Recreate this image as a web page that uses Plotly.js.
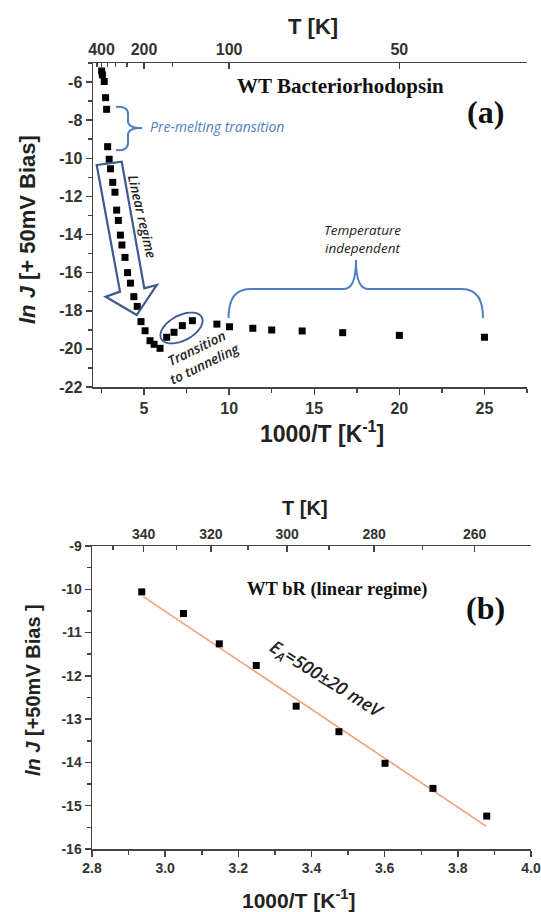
<!DOCTYPE html>
<html>
<head>
<meta charset="utf-8">
<script src="https://cdn.plot.ly/plotly-3.0.1.min.js"></script>
<style>html,body{margin:0;padding:0;background:#fff;}#chart{width:541px;height:912px;}</style>
</head>
<body>
<div id="chart"></div>
<script>
// ---------- Panel (a) data ----------
const invTA = [2.51, 2.55, 2.66, 2.74, 2.80, 2.86, 2.95, 3.03, 3.16, 3.29, 3.39, 3.49, 3.61, 3.70, 3.88, 4.03, 4.20, 4.40, 4.60, 4.82, 5.06, 5.35, 5.59, 5.94, 6.33, 6.76, 7.25, 7.84, 9.28, 10.02, 11.39, 12.50, 14.29, 16.67, 20.00, 25.00];
const lnJA  = [-5.42, -5.62, -5.97, -6.82, -7.43, -9.39, -10.05, -10.55, -11.26, -11.78, -12.72, -13.26, -14.03, -14.55, -15.20, -16.00, -16.55, -17.26, -17.77, -18.57, -19.05, -19.57, -19.76, -19.97, -19.39, -19.13, -18.78, -18.52, -18.70, -18.84, -18.92, -19.01, -19.06, -19.15, -19.29, -19.39];
const bottomTicksA = [5, 10, 15, 20, 25];
const bottomMinorA = [2.5, 7.5, 12.5, 17.5, 22.5, 27.5];
const leftTicksA = [-22, -20, -18, -16, -14, -12, -10, -8, -6];
const leftMinorA = [-21, -19, -17, -15, -13, -11, -9, -7, -5];
const topTempA = [400, 200, 100, 50];
const topMinorTempA = [450, 350, 300, 250, 150];

// ---------- Panel (b) data ----------
const invTB = [2.936, 3.050, 3.148, 3.249, 3.358, 3.475, 3.601, 3.732, 3.879];
const lnJB  = [-10.06, -10.56, -11.26, -11.76, -12.70, -13.29, -14.02, -14.60, -15.24];
const fitX  = [2.94, 3.877];
const fitY  = [-10.17, -15.47];
const bottomTicksB = [2.8, 3.0, 3.2, 3.4, 3.6, 3.8, 4.0];
const bottomMinorB = [2.9, 3.1, 3.3, 3.5, 3.7, 3.9];
const leftTicksB = [-16, -15, -14, -13, -12, -11, -10, -9];
const leftMinorB = [-15.5, -14.5, -13.5, -12.5, -11.5, -10.5, -9.5];
const topTempB = [340, 320, 300, 280, 260];
const topMinorTempB = [350, 330, 310, 290, 270];

const W = 541, H = 912;
const P = (x, y) => (x / W).toFixed(4) + ',' + (1 - y / H).toFixed(4);
const inv = T => 1000 / T;

const axisCol = '#444';
const tickFontA = {family: 'Arial, "Liberation Sans", sans-serif', size: 16, color: '#333', weight: 700};
const tickFontB = {family: 'Arial, "Liberation Sans", sans-serif', size: 14, color: '#333', weight: 700};

function baseAxis(extra) {
  return Object.assign({
    showline: true, linecolor: axisCol, linewidth: 1.5, showgrid: false, zeroline: false,
    ticks: 'outside', ticklen: 6, tickwidth: 1.5, tickcolor: axisCol, fixedrange: true
  }, extra);
}

const traces = [
  {x: invTA, y: lnJA, xaxis: 'x', yaxis: 'y', mode: 'markers', type: 'scatter',
   marker: {symbol: 'square', size: 7, color: '#000'}, showlegend: false, hoverinfo: 'skip'},
  {x: [], y: [], xaxis: 'x2', yaxis: 'y', mode: 'markers', type: 'scatter', showlegend: false, hoverinfo: 'skip'},
  {x: fitX, y: fitY, xaxis: 'x3', yaxis: 'y3', mode: 'lines', type: 'scatter',
   line: {color: '#f29f7f', width: 1.6}, showlegend: false, hoverinfo: 'skip'},
  {x: invTB, y: lnJB, xaxis: 'x3', yaxis: 'y3', mode: 'markers', type: 'scatter',
   marker: {symbol: 'square', size: 7, color: '#000'}, showlegend: false, hoverinfo: 'skip'},
  {x: [], y: [], xaxis: 'x4', yaxis: 'y3', mode: 'markers', type: 'scatter', showlegend: false, hoverinfo: 'skip'}
];

const blue = '#4f7fc0';
const navy = '#3d5a8e';

function ellipsePath(cx, cy, a, b, angDeg) {
  const t = angDeg * Math.PI / 180;
  let s = '';
  for (let i = 0; i <= 48; i++) {
    const u = i / 48 * 2 * Math.PI;
    const ex = a * Math.cos(u), ey = b * Math.sin(u);
    const x = cx + ex * Math.cos(t) - ey * Math.sin(t);
    const y = cy + ex * Math.sin(t) + ey * Math.cos(t);
    s += (i === 0 ? 'M ' : ' L ') + P(x, y);
  }
  return s + ' Z';
}

const shapes = [
  {type: 'path', xref: 'paper', yref: 'paper', line: {color: blue, width: 2},
   path: 'M ' + P(116, 107) + ' Q ' + P(128, 106) + ' ' + P(128, 114) + ' L ' + P(128, 121) +
         ' Q ' + P(128, 128) + ' ' + P(142, 128) + ' Q ' + P(128, 128) + ' ' + P(128, 135) +
         ' L ' + P(128, 143) + ' Q ' + P(128, 151) + ' ' + P(116, 150)},
  {type: 'path', xref: 'paper', yref: 'paper', line: {color: navy, width: 2.2},
   path: 'M ' + P(96.7, 165) + ' L ' + P(121.7, 161.7) + ' L ' + P(144.3, 288.3) + ' L ' + P(156.7, 285) +
         ' L ' + P(136.7, 315) + ' L ' + P(105.7, 296.7) + ' L ' + P(120, 291.7) + ' Z'},
  {type: 'path', xref: 'paper', yref: 'paper', line: {color: navy, width: 1.8},
   path: ellipsePath(181.5, 328, 23, 12.5, -28)},
  {type: 'path', xref: 'paper', yref: 'paper', line: {color: blue, width: 2},
   path: 'M ' + P(228.5, 318) + ' Q ' + P(228.5, 289) + ' ' + P(250, 289) + ' L ' + P(344, 289) +
         ' Q ' + P(356, 289) + ' ' + P(356, 260) + ' Q ' + P(356, 289) + ' ' + P(368, 289) +
         ' L ' + P(462, 289) + ' Q ' + P(483, 289) + ' ' + P(483, 318)}
];

function ann(text, x, y, font, extra) {
  return Object.assign({text: text, xref: 'paper', yref: 'paper', x: x / W, y: 1 - y / H,
    xanchor: 'center', yanchor: 'middle', showarrow: false, font: font}, extra || {});
}
const arialB = (s, c) => ({family: 'Arial, "Liberation Sans", sans-serif', size: s, color: c || '#222', weight: 700});
const timesB = s => ({family: '"Liberation Serif", "Times New Roman", serif', size: s, color: '#111', weight: 700});
const italic = (s, c, w) => ({family: '"Open Sans", Arial, sans-serif', size: s, color: c, style: 'italic', weight: w || 400});

const annotations = [
  ann('<b>T [K]</b>', 313, 27, arialB(22)),
  ann('<b><i>ln J</i> [+ 50mV Bias]</b>', 27, 230, arialB(22), {textangle: -90}),
  ann('<b>1000/T [K<sup>-1</sup>]</b>', 322, 432, arialB(23)),
  ann('WT Bacteriorhodopsin', 340, 86, timesB(21)),
  ann('(a)', 485, 112, timesB(32)),
  ann('Pre-melting transition', 148, 127, italic(14, blue), {xanchor: 'left'}),
  ann('Linear regime', 142, 216, italic(13.5, '#222', 600), {textangle: 77}),
  ann('Transition<br>to tunneling', 201, 356, italic(13.5, '#222', 600), {textangle: -26}),
  ann('Temperature<br>independent', 362, 239, italic(13.5, '#222', 500), {}),

  ann('<b>T [K]</b>', 305, 508, arialB(20)),
  ann('<b><i>ln J</i> [+50mV Bias ]</b>', 33, 690, arialB(20), {textangle: -90}),
  ann('<b>1000/T [K<sup>-1</sup>]</b>', 298, 899, arialB(21)),
  ann('WT bR (linear regime)', 337, 589, timesB(18.5)),
  ann('(b)', 485, 608, timesB(32)),
  ann('E<sub>A</sub>=500±20 meV', 326, 679, italic(18, '#222', 600), {textangle: 32})
];

const layout = {
  width: W, height: H, margin: {l: 0, r: 0, t: 0, b: 0},
  paper_bgcolor: '#fff', plot_bgcolor: 'rgba(0,0,0,0)', showlegend: false,
  xaxis: baseAxis({domain: [93 / W, 527 / W], anchor: 'y', range: [2, 27.5],
    tickmode: 'array', tickvals: bottomTicksA, ticktext: bottomTicksA.map(String), tickfont: tickFontA,
    minor: {tickmode: 'array', tickvals: bottomMinorA, ticks: 'outside', ticklen: 4, tickwidth: 1.5, tickcolor: axisCol}}),
  xaxis2: baseAxis({overlaying: 'x', side: 'top', anchor: 'y', range: [2, 27.5], ticks: 'inside',
    tickmode: 'array', tickvals: topTempA.map(inv), ticktext: topTempA.map(String), tickfont: tickFontA,
    minor: {tickmode: 'array', tickvals: topMinorTempA.map(inv), ticks: 'inside', ticklen: 4, tickwidth: 1.5, tickcolor: axisCol}}),
  yaxis: baseAxis({domain: [1 - 387 / H, 1 - 63 / H], anchor: 'x', range: [-22, -5],
    tickmode: 'array', tickvals: leftTicksA, ticktext: leftTicksA.map(String), tickfont: tickFontA,
    minor: {tickmode: 'array', tickvals: leftMinorA, ticks: 'outside', ticklen: 4, tickwidth: 1.5, tickcolor: axisCol}}),
  xaxis3: baseAxis({domain: [92 / W, 531 / W], anchor: 'y3', range: [2.8, 4.0],
    tickmode: 'array', tickvals: bottomTicksB, ticktext: bottomTicksB.map(v => v.toFixed(1)), tickfont: tickFontB,
    minor: {tickmode: 'array', tickvals: bottomMinorB, ticks: 'outside', ticklen: 4, tickwidth: 1.5, tickcolor: axisCol}}),
  xaxis4: baseAxis({overlaying: 'x3', side: 'top', anchor: 'y3', range: [2.8, 4.0], ticks: 'inside',
    tickmode: 'array', tickvals: topTempB.map(inv), ticktext: topTempB.map(String), tickfont: tickFontB,
    minor: {tickmode: 'array', tickvals: topMinorTempB.map(inv), ticks: 'inside', ticklen: 4, tickwidth: 1.5, tickcolor: axisCol}}),
  yaxis3: baseAxis({domain: [1 - 849 / H, 1 - 546 / H], anchor: 'x3', range: [-16, -9],
    tickmode: 'array', tickvals: leftTicksB, ticktext: leftTicksB.map(String), tickfont: tickFontB,
    minor: {tickmode: 'array', tickvals: leftMinorB, ticks: 'outside', ticklen: 4, tickwidth: 1.5, tickcolor: axisCol}}),
  shapes: shapes,
  annotations: annotations
};

Plotly.newPlot('chart', traces, layout, {staticPlot: true, displayModeBar: false});
</script>
</body>
</html>
